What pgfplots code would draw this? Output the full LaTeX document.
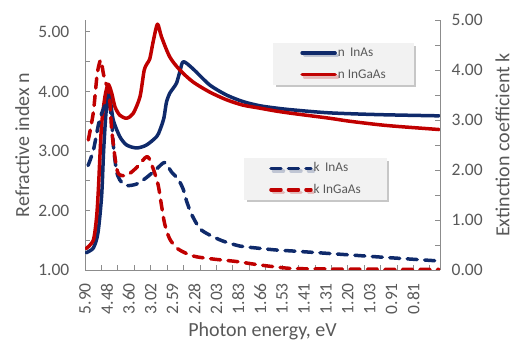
\documentclass[border=0pt]{standalone}
\usepackage{pgfplots}
\pgfplotsset{compat=1.18}
\usepackage{pgfplotstable}
\usepackage{fontspec}
\setmainfont{Carlito}
\usetikzlibrary{shadows}
\definecolor{nblue}{HTML}{0F2A6B}
\definecolor{nred}{HTML}{C00000}
\definecolor{axgray}{HTML}{8C8C8C}
\definecolor{txtgray}{HTML}{595959}
\definecolor{legfill}{HTML}{F2F2F2}

% x = category position (one unit per labelled tick)
\pgfplotstableread{
u n
0.05 1.29
0.38 1.37
0.59 1.62
0.76 2.25
0.85 3.00
0.95 3.60
1.07 4.03
1.16 3.85
1.29 3.52
1.59 3.24
1.90 3.10
2.36 3.05
2.81 3.10
3.27 3.24
3.42 3.35
3.60 3.55
3.72 3.82
3.87 3.97
4.02 4.05
4.18 4.14
4.33 4.33
4.49 4.50
4.93 4.38
5.69 4.11
6.46 3.94
7.21 3.83
7.97 3.76
8.73 3.72
9.48 3.69
11.16 3.64
13.44 3.61
16.17 3.59
}\nInAs

\pgfplotstableread{
u n
0.05 1.36
0.38 1.50
0.53 1.89
0.61 2.35
0.68 2.90
0.76 3.45
0.91 3.91
1.06 4.12
1.22 3.97
1.37 3.74
1.59 3.60
1.90 3.55
2.20 3.63
2.51 3.91
2.70 4.35
2.84 4.47
2.96 4.55
3.12 4.85
3.31 5.13
3.49 4.92
3.87 4.58
4.33 4.36
4.93 4.16
5.69 3.99
6.46 3.86
7.21 3.77
7.97 3.72
8.73 3.67
9.48 3.63
11.16 3.55
12.07 3.50
13.44 3.44
14.35 3.41
16.17 3.36
}\nInGaAs

\pgfplotstableread{
u k
0.14 2.09
0.38 2.39
0.61 2.90
0.76 3.13
0.91 3.29
1.06 3.37
1.16 3.20
1.24 2.86
1.31 2.42
1.44 1.98
1.59 1.80
1.90 1.69
2.36 1.72
2.81 1.85
3.27 2.02
3.64 2.15
3.95 1.96
4.25 1.82
4.48 1.62
4.63 1.39
4.86 1.12
5.24 0.83
5.69 0.70
6.29 0.58
7.06 0.48
7.82 0.44
8.73 0.40
9.48 0.38
11.16 0.33
13.44 0.26
16.17 0.18
}\kInAs

\pgfplotstableread{
u k
0.15 2.60
0.38 3.15
0.56 3.93
0.72 4.20
0.83 3.95
0.93 3.75
1.03 3.68
1.14 3.35
1.22 2.80
1.37 2.25
1.52 1.93
1.90 1.89
2.36 2.05
2.84 2.27
3.11 2.03
3.34 1.70
3.49 1.30
3.64 0.92
3.87 0.62
4.25 0.42
4.93 0.28
5.83 0.22
6.91 0.17
7.82 0.11
8.73 0.06
9.48 0.03
11.16 0.02
16.17 0.01
}\kInGaAs

\pgfplotsset{
  common/.style={
    scale only axis, width=355bp, height=250bp,
    at={(85bp,80bp)}, anchor=south west,
    xmin=0, xmax=16.21,
    tick align=inside,
    major tick length=5bp, minor tick length=5bp,
    tick style={axgray, line width=0.9bp},
    minor tick style={axgray, line width=0.9bp},
    axis line style={axgray, line width=1bp},
    tick label style={font=\fontsize{17.5bp}{20bp}\selectfont, text=txtgray},
    label style={font=\fontsize{20bp}{24bp}\selectfont, text=txtgray},
    /pgf/number format/assume math mode=true,
    yticklabel style={/pgf/number format/fixed, /pgf/number format/fixed zerofill, /pgf/number format/precision=2, inner sep=0pt},
    legend cell align=left,
  },
  legbox/.style={
    fill=legfill, draw=none,
    drop shadow={shadow xshift=2.5bp, shadow yshift=-2.5bp, fill=black, opacity=0.22},
    inner ysep=3bp,
    row sep=7.3bp,
    font=\fontsize{13.3bp}{15bp}\selectfont, text=txtgray,
    nodes={inner sep=1bp, text height=9.5bp, text depth=2.5bp},
  },
  nline/.style={line width=3.5bp, line join=round, line cap=round, smooth, tension=0.45},
  kline/.style={line width=3.5bp, line join=round, line cap=round, dash pattern=on 10bp off 7.5bp, smooth, tension=0.45},
}

\begin{document}
\begin{tikzpicture}
\useasboundingbox (0,0) rectangle (518bp,350bp);
\begin{axis}[common,
  axis x line*=bottom, axis y line*=left,
  ymin=1, ymax=5.2,
  ytick={1,2,3,4,5}, minor ytick={1.5,2.5,3.5,4.5},
  yticklabel shift=15.5bp,
  xtick={0,...,15},
  xticklabels={5.90,4.48,3.60,3.02,2.59,2.28,2.03,1.83,1.66,1.53,1.41,1.31,1.20,1.03,0.91,0.81},
  major x tick style={draw=none},
  minor xtick={0.75,1.5,2.25,3,3.75,4.5,5.25,6,6.75,7.5,8.25,9,9.75,10.5,11.25,12,12.75,13.5,14.25,15,15.75},
  xticklabel style={rotate=90, anchor=east, inner sep=0pt},
  xticklabel shift=13bp,
  xlabel={Photon energy, eV},
  xlabel style={at={(axis description cs:0.5,-0.244)}, anchor=center},
  ylabel={Refractive index n},
  ylabel style={at={(axis description cs:-0.177,0.5)}, anchor=center},
  legend style={legbox, at={(axis description cs:0.530,0.908)}, anchor=north west, inner xsep=27bp},
  legend image code/.code={\draw[#1, sharp plot] (0bp,0bp) -- (33bp,0bp);},
]
\addplot[nblue, nline] table[x=u, y=n] {\nInAs};
\addlegendentry{n\, InAs}
\addplot[nred, nline] table[x=u, y=n] {\nInGaAs};
\addlegendentry{n InGaAs}
\end{axis}
\begin{axis}[common,
  axis x line=none, axis y line*=right,
  ymin=0, ymax=5,
  ytick={0,1,2,3,4,5}, minor ytick={0.5,1.5,2.5,3.5,4.5},
  yticklabel shift=11.5bp,
  ylabel={Extinction coefficient k},
  ylabel style={at={(axis description cs:1.176,0.5)}, anchor=center},
  legend style={legbox, at={(axis description cs:0.448,0.447)}, anchor=north west, inner xsep=25bp},
  legend image code/.code={\draw[#1, sharp plot] (0bp,0bp) -- (40bp,0bp);},
]
\addplot[nblue, kline] table[x=u, y=k] {\kInAs};
\addlegendentry{k\, InAs}
\addplot[nred, kline] table[x=u, y=k] {\kInGaAs};
\addlegendentry{k InGaAs}
\end{axis}
\end{tikzpicture}
\end{document}
